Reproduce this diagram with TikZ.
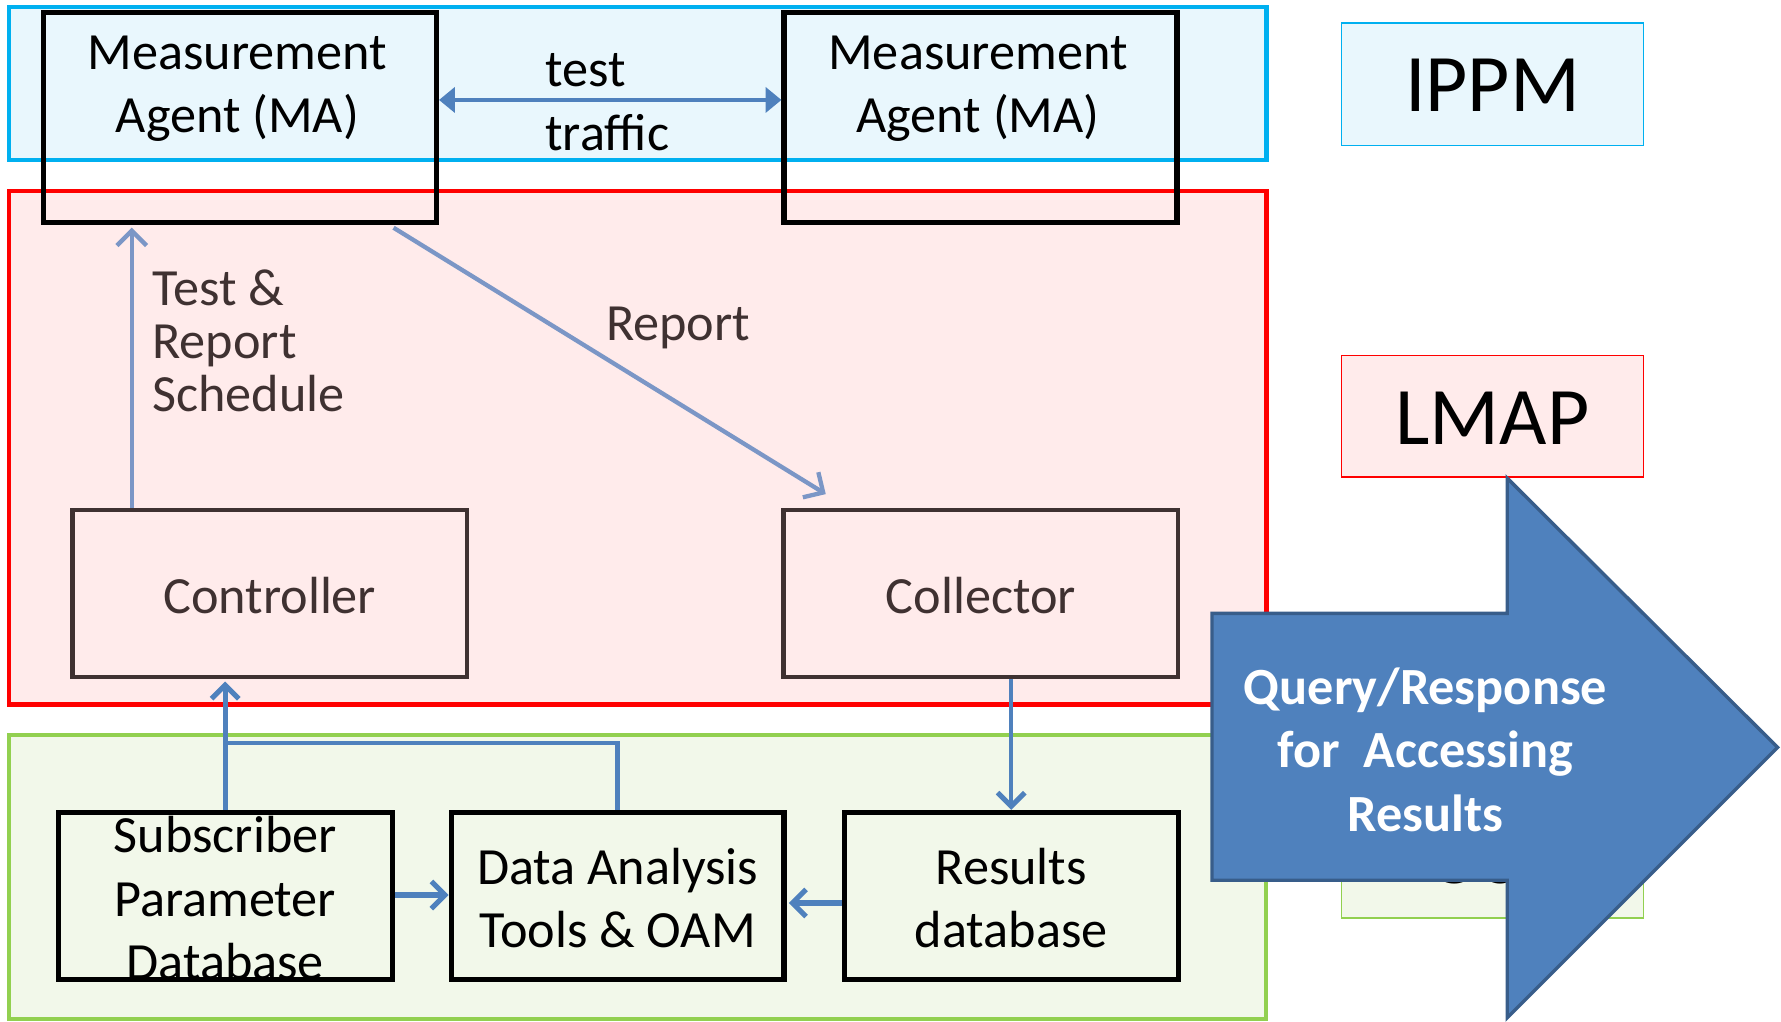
\documentclass[tikz,border=0pt]{standalone}
\usepackage{fontspec}
\setmainfont{Carlito}
\usetikzlibrary{arrows.meta,calc}
\definecolor{ippmline}{HTML}{00B0F0}
\definecolor{ippmfill}{HTML}{E9F7FD}
\definecolor{lmapline}{HTML}{FF0000}
\definecolor{lmapfill}{HTML}{FFEBEB}
\definecolor{ossline}{HTML}{92D050}
\definecolor{ossfill}{HTML}{F2F8EA}
\definecolor{arrblue}{HTML}{4F81BD}
\definecolor{arrlight}{HTML}{7B96C6}
\definecolor{arrdark}{HTML}{385D8A}
\definecolor{brownish}{HTML}{3F3131}
\tikzset{
  band/.style={draw, line width=4pt},
  agentbox/.style={draw=black, line width=4.5pt, anchor=north west, inner sep=0pt},
  ctlbox/.style={draw=brownish, line width=4pt, anchor=north west, inner sep=0pt},
  txt/.style={font=\fontsize{46}{56}\selectfont, align=center, inner sep=0pt},
  bigtxt/.style={font=\fontsize{72}{80}\selectfont, inner sep=0pt},
  tagbox/.style={line width=1.5pt},
  lightarr/.style={draw=arrlight, line width=3.8pt, -{Straight Barb[length=13pt,width=26pt,line width=3.8pt]}},
  bluearr/.style={draw=arrblue, line width=4.5pt, -{Straight Barb[length=12pt,width=24pt,line width=4.5pt]}},
  blueline/.style={draw=arrblue, line width=4pt},
}
\begin{document}
\begin{tikzpicture}[x=1pt,y=-1pt]
\useasboundingbox (0,0) rectangle (1568,899);
% bands
\draw[band, draw=ippmline, fill=ippmfill] (8,6) rectangle (1115,141);
\draw[band, draw=lmapline, fill=lmapfill] (8,168) rectangle (1115,620);
\draw[band, draw=ossline, fill=ossfill, line width=3.5pt] (8,647) rectangle (1115,897);
% right-side tags
\draw[tagbox, draw=ippmline, fill=ippmfill] (1181,20) rectangle (1447,128);
\node[bigtxt] (ippm) at (1314,75) {IPPM};
\draw[tagbox, draw=lmapline, fill=lmapfill] (1181,313) rectangle (1447,420);
\node[bigtxt] (lmap) at (1314,368) {LMAP};
\draw[tagbox, draw=ossline, fill=ossfill] (1181,701) rectangle (1447,808);
\node[bigtxt] (oss) at (1314,755) {OSS};
% measurement agents
\node[agentbox, minimum width=346pt, minimum height=185pt] (ma1) at (36,9) {};
\node[agentbox, minimum width=346pt, minimum height=185pt] (ma2) at (688,9) {};
\node[txt] (ma1t) at (209,78) {Measurement\\Agent (MA)};
\node[txt] (ma2t) at (861,78) {Measurement\\Agent (MA)};
% test traffic
\draw[draw=arrblue, line width=4pt, {Triangle[length=14pt,width=22pt]}-{Triangle[length=14pt,width=22pt]}]
  (ma1.east |- 0,88) -- (ma2.west |- 0,88);
\node[txt, align=left, anchor=west] (tt) at (480,90) {test\\traffic};
% controller / collector
\node[ctlbox, minimum width=347pt, minimum height=147pt] (ctrl) at (62,447) {};
\node[ctlbox, minimum width=347pt, minimum height=147pt] (coll) at (688,447) {};
\node[txt, text=brownish] at ($(ctrl.center)+(0,2)$) {Controller};
\node[txt, text=brownish] at ($(coll.center)+(0,2)$) {Collector};
% schedule arrow
\coordinate (schA) at ($(ctrl.north west)+(54,0)$);
\coordinate (schB) at ($(ma1.south west)+(80,2)$);
\draw[lightarr] (schA) -- (schB);
\node[font=\fontsize{46}{46.5}\selectfont, align=left, inner sep=0pt, anchor=west, text=brownish] (schtxt) at (134,300) {Test \&\\Report\\Schedule};
% report arrow
\coordinate (repA) at ($(ma1.south east)+(-40,2)$);
\coordinate (repB) at ($(coll.north west)+(39,-12)$);
\draw[lightarr] (repA) -- (repB);
\node[txt, text=brownish] (reptxt) at (597,289) {Report};
% OSS boxes
\node[agentbox, minimum width=294pt, minimum height=147pt] (sub) at (49,713) {};
\node[agentbox, minimum width=293pt, minimum height=147pt] (da) at (395,713) {};
\node[agentbox, minimum width=294pt, minimum height=147pt] (res) at (741,713) {};
\node[txt] at ($(sub.center)+(0,2)$) {Subscriber\\Parameter\\Database};
\node[txt] at ($(da.center)+(0,2)$) {Data Analysis\\Tools \& OAM};
\node[txt] at ($(res.center)+(0,2)$) {Results\\database};
% OSS connectors
\draw[bluearr] (sub.east |- 0,788) -- (da.west |- 0,788);
\draw[bluearr] (res.west |- 0,795) -- ($(da.east |- 0,795)+(2,0)$);
\draw[bluearr, line width=4pt] (res.north |- coll.south) -- (res.north);
\draw[bluearr] (sub.north) -- ($(sub.north |- ctrl.south)+(0,2)$);
\coordinate (jn) at (sub.north |- 0,654);
\draw[blueline] (da.north) |- (jn);
% big arrow
\draw[fill=arrblue, draw=arrdark, line width=3pt, line join=miter]
  (1067,540) -- (1327,540) -- (1327,421) -- (1565,658) -- (1327,896) -- (1327,775) -- (1067,775) -- cycle;
\node[txt, text=white, font=\fontsize{46}{56}\selectfont\bfseries] (qr) at (1255,660) {Query/Response\\for\ \ Accessing\\Results};
\end{tikzpicture}
\end{document}
